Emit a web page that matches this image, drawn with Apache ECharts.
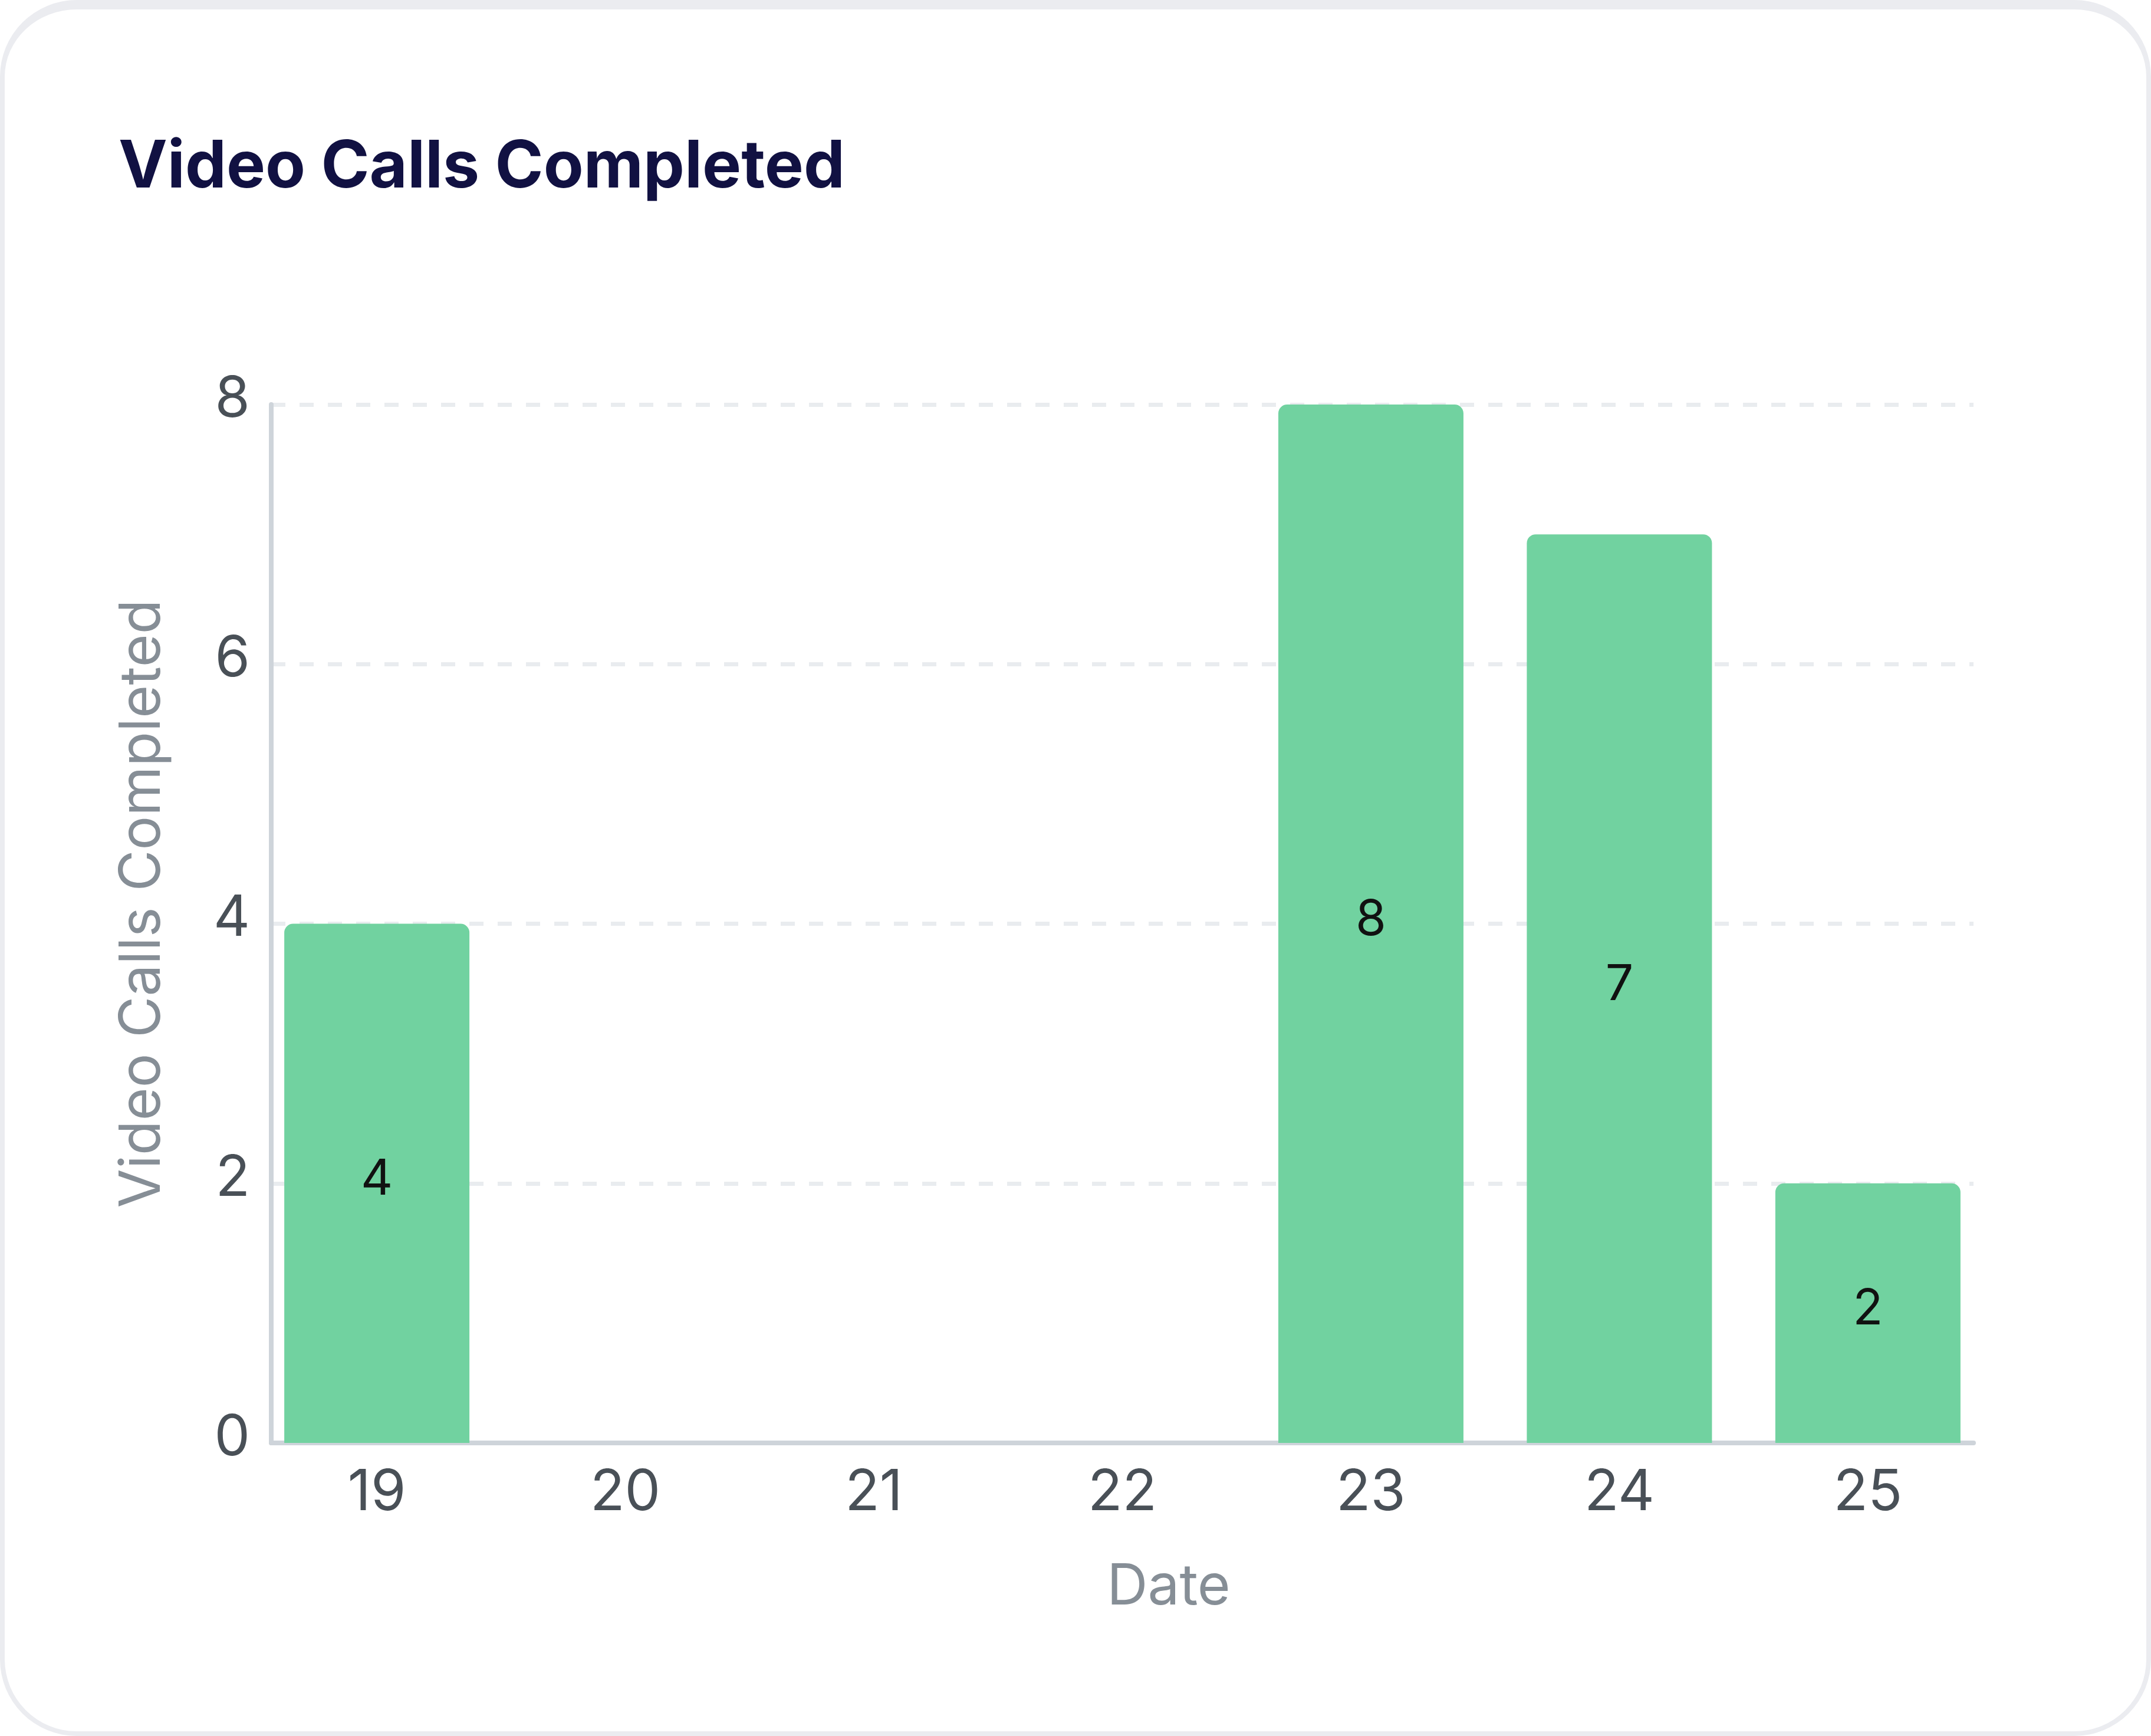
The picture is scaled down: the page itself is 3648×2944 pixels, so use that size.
<!DOCTYPE html>
<html>
<head>
<meta charset="utf-8">
<title>Video Calls Completed</title>
<script src="https://cdn.jsdelivr.net/npm/echarts@6/dist/echarts.min.js"></script>
<style>
    html, body { margin: 0; padding: 0; background: #ffffff; }
    #card {
        position: absolute; left: 0; top: 0; width: 3648px; height: 2944px;
        box-sizing: border-box; background: #ffffff;
        border: 8px solid #ebecf0; border-top-width: 16px; border-radius: 130px;
    }
    #chart { position: absolute; left: 0; top: 0; width: 3648px; height: 2944px; }
</style>
</head>
<body>
<div id="card"></div>
<div id="chart"></div>
<script>
    // days of the month shown on the x axis
    var days = [19, 20, 21, 22, 23, 24, 25];
    // calls completed per day
    var calls = [4, 0, 0, 0, 8, 7, 2];
    // y axis ticks
    var yTicks = [0, 2, 4, 6, 8];

    var fontFamily = 'Inter, "Noto Sans", sans-serif';

    var seriesData = [];
    for (var i = 0; i < days.length; i++) {
        seriesData.push([days[i], calls[i]]);
    }

    var option = {
        animation: false,
        title: {
            text: 'Video Calls Completed',
            left: 196,
            top: 224,
            textStyle: {
                fontFamily: fontFamily,
                fontSize: 111,
                fontWeight: 700,
                color: '#111142'
            }
        },
        grid: {
            left: 460,
            right: 301,
            top: 686,
            bottom: 497,
            containLabel: false
        },
        xAxis: {
            type: 'value',
            min: days[0] - 0.425,
            max: days[days.length - 1] + 0.425,
            splitNumber: days.length,
            name: 'Date',
            nameLocation: 'middle',
            nameGap: 197,
            nameTextStyle: {
                fontFamily: fontFamily,
                fontSize: 96,
                color: '#868e96',
                padding: [0, 0, 0, 157]
            },
            axisLine: {
                show: true,
                lineStyle: { color: '#ced4da', width: 8, cap: 'round' }
            },
            axisTick: { show: false },
            splitLine: { show: false },
            axisLabel: {
                showMinLabel: false,
                showMaxLabel: false,
                margin: 37,
                fontFamily: fontFamily,
                fontSize: 96,
                color: '#495057',
                formatter: function (v) {
                    return days.indexOf(v) >= 0 ? String(v) : '';
                }
            }
        },
        yAxis: {
            type: 'value',
            min: yTicks[0],
            max: yTicks[yTicks.length - 1],
            interval: yTicks[1] - yTicks[0],
            name: 'Video Calls Completed',
            nameLocation: 'middle',
            nameRotate: 90,
            nameGap: 170,
            nameTextStyle: {
                fontFamily: fontFamily,
                fontSize: 96,
                color: '#868e96',
                padding: [0, 0, 0, 68]
            },
            axisLine: {
                show: true,
                lineStyle: { color: '#ced4da', width: 8, cap: 'round' }
            },
            axisTick: { show: false },
            splitLine: {
                show: true,
                lineStyle: { color: '#e9ecef', width: 7, type: [24, 24] }
            },
            axisLabel: {
                margin: 36,
                fontFamily: fontFamily,
                fontSize: 96,
                color: '#495057',
                verticalAlign: 'bottom',
                lineHeight: 16
            }
        },
        series: [
            {
                name: 'Video Calls Completed',
                type: 'bar',
                barWidth: 314,
                data: seriesData,
                itemStyle: {
                    color: '#71d2a0',
                    borderRadius: [15, 15, 0, 0]
                },
                label: {
                    show: true,
                    position: 'inside',
                    offset: [0, -6],
                    fontFamily: fontFamily,
                    fontSize: 84,
                    color: '#111111',
                    formatter: function (p) {
                        return p.value[1] > 0 ? String(p.value[1]) : '';
                    }
                }
            }
        ]
    };

    var videoChart = echarts.init(document.getElementById('chart'));
    videoChart.setOption(option);
</script>
</body>
</html>
